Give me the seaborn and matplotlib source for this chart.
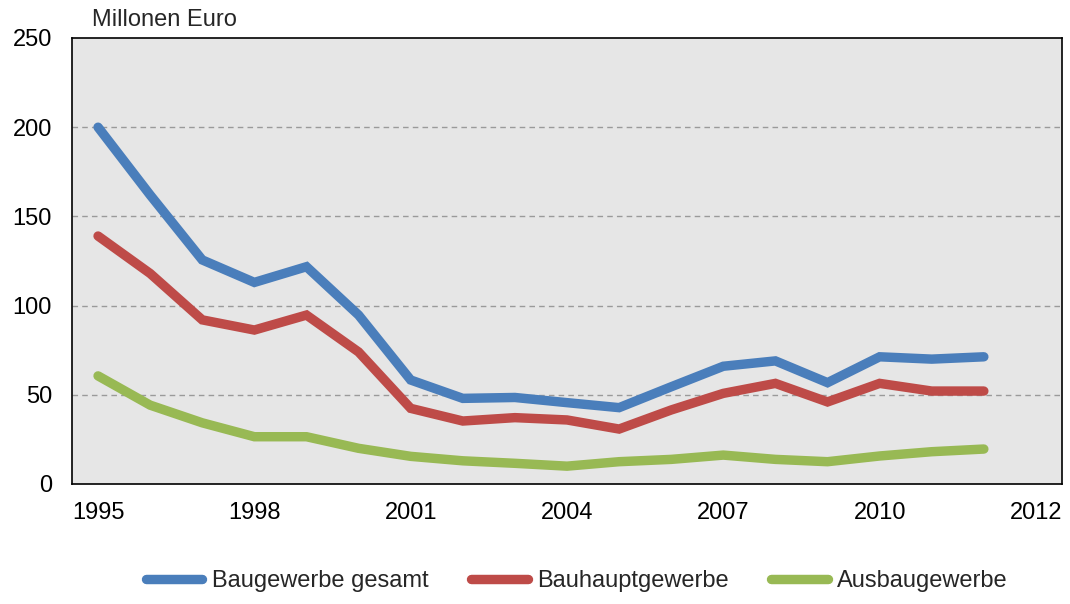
import pandas as pd
import seaborn as sns
import matplotlib.pyplot as plt

# Daten (Millionen Euro)
years = list(range(1995, 2013))
gesamt = [200, 162, 125.6, 113, 121.8, 94.7, 58.3, 48, 48.5, 45.6, 42.8, 54.5, 66, 69, 56.8, 71.3, 70, 71.3]
bauhaupt = [139, 118, 92, 86.3, 94.7, 74, 42.4, 35.3, 37.2, 35.9, 30.8, 41.5, 50.8, 56.4, 46, 56.4, 52.1, 52.1]
ausbau = [60.6, 44.2, 34.3, 26.5, 26.5, 20, 15.5, 13, 11.6, 10, 12.5, 13.8, 16.2, 13.8, 12.5, 15.7, 18.1, 19.6]

series_names = ["Baugewerbe gesamt", "Bauhauptgewerbe", "Ausbaugewerbe"]
colors = ["#4A7EBB", "#BE4B48", "#98B954"]
tick_years = [1995, 1998, 2001, 2004, 2007, 2010, 2013]
tick_labels = ["1995", "1998", "2001", "2004", "2007", "2010", "2012"]

df = pd.DataFrame({"Jahr": years, series_names[0]: gesamt,
                   series_names[1]: bauhaupt, series_names[2]: ausbau})
long = df.melt(id_vars="Jahr", var_name="Reihe", value_name="Wert")

sns.set_style("white")
plt.rcParams["font.family"] = ["Liberation Sans", "DejaVu Sans"]
fs = 17

fig = plt.figure(figsize=(10.7, 6.04), dpi=100)
ax = fig.add_axes([72 / 1070, 1 - 484 / 604, 990 / 1070, 446 / 604])
ax.set_facecolor("#E6E6E6")

sns.lineplot(data=long, x="Jahr", y="Wert", hue="Reihe", hue_order=series_names,
             palette=colors, linewidth=6.8, ax=ax, legend=True)
for line in ax.lines:
    line.set_solid_capstyle("round")
    line.set_solid_joinstyle("miter")

ax.set_xlim(1994.5, 2013.5)
ax.set_ylim(0, 250)
ax.set_yticks([0, 50, 100, 150, 200, 250])
ax.set_xticks(tick_years)
ax.set_xticklabels(tick_labels)
ax.tick_params(axis="both", length=0, labelsize=fs, colors="black")
ax.tick_params(axis="x", pad=13)
ax.tick_params(axis="y", pad=14.5)
ax.set_xlabel("")
ax.set_ylabel("")
for y in [50, 100, 150, 200]:
    ax.axhline(y, color="#9A9A9A", linestyle=(0, (4, 3)), linewidth=1, zorder=0.5)
for s in ax.spines.values():
    s.set_visible(True)
    s.set_color("black")
    s.set_linewidth(1.2)

fig.text(92 / 1070, 1 - 20 / 604, "Millonen Euro", fontsize=fs, va="center", ha="left")

handles, labels = ax.get_legend_handles_labels()
ax.get_legend().remove()
for h in handles:
    h.set_solid_capstyle("round")
fig.legend(handles, labels, loc="center", bbox_to_anchor=(0.539, 1 - 581 / 604), ncol=3,
           frameon=False, fontsize=fs, handlelength=2.4, columnspacing=1.8, handletextpad=0.4)

fig.savefig("out.png", dpi=100)
